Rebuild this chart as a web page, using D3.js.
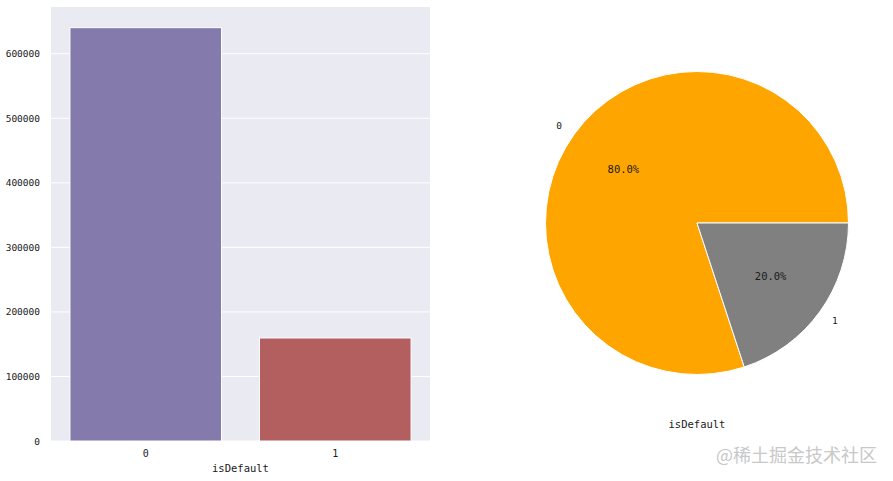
<!DOCTYPE html>
<html>
<head>
<meta charset="utf-8">
<script src="https://cdn.jsdelivr.net/npm/d3@7"></script>
<style>
  body { margin: 0; background: #fff; }
  text { font-family: "DejaVu Sans Mono", "Liberation Mono", monospace; }
</style>
</head>
<body>
<div id="chart"></div>
<script>
// counts per class of isDefault
var categories = ["0", "1"];
var counts = [640390, 159610];
var barColors = ["#847bac", "#b35f60"];
var pieColors = ["#ffa500", "#808080"];
var yTicks = [0, 100000, 200000, 300000, 400000, 500000, 600000];
var xLabel = "isDefault";

var svg = d3.select("#chart").append("svg")
    .attr("width", 893)
    .attr("height", 481);

// ---- left: count plot ----
var plotL = 51, plotR = 430, plotT = 7, plotB = 441;

svg.append("rect")
    .attr("x", plotL).attr("y", plotT)
    .attr("width", plotR - plotL).attr("height", plotB - plotT)
    .style("fill", "#eaeaf2");

var x = d3.scaleBand()
    .domain(categories)
    .range([plotL, plotR])
    .paddingInner(0.2)
    .paddingOuter(0.1);

var y = d3.scaleLinear()
    .domain([0, d3.max(counts) * 1.05])
    .range([plotB, plotT]);

// gridlines
svg.append("g")
    .selectAll("line")
    .data(yTicks)
    .enter().append("line")
    .attr("x1", plotL).attr("x2", plotR)
    .attr("y1", function(d) { return y(d); })
    .attr("y2", function(d) { return y(d); })
    .style("stroke", "#fff")
    .style("stroke-width", 1);

svg.append("g")
    .selectAll("rect")
    .data(counts)
    .enter().append("rect")
    .attr("x", function(d, i) { return x(categories[i]); })
    .attr("width", x.bandwidth())
    .attr("y", function(d) { return y(d); })
    .attr("height", function(d) { return plotB - y(d); })
    .style("fill", function(d, i) { return barColors[i]; })
    .style("stroke", "#fff")
    .style("stroke-width", 1);

var yAxis = d3.axisLeft(y).tickValues(yTicks).tickSize(0).tickPadding(11)
    .tickFormat(d3.format("d"));
var yg = svg.append("g").attr("transform", "translate(" + plotL + ",0)").call(yAxis);
yg.select(".domain").remove();
yg.selectAll("text").style("font-size", "9.5px").style("fill", "#1a1a1a")
    .style("font-family", "'DejaVu Sans Mono', monospace");

var xAxis = d3.axisBottom(x).tickSize(0).tickPadding(9);
var xg = svg.append("g").attr("transform", "translate(0," + plotB + ")").call(xAxis);
xg.select(".domain").remove();
xg.selectAll("text").style("font-size", "10px").style("fill", "#1a1a1a")
    .style("font-family", "'DejaVu Sans Mono', monospace");

svg.append("text")
    .attr("x", (plotL + plotR) / 2)
    .attr("y", 472)
    .attr("text-anchor", "middle")
    .style("font-size", "10.5px")
    .style("fill", "#1a1a1a")
    .text(xLabel);

// ---- right: pie ----
var cx = 697, cy = 223, r = 151.5;
var total = d3.sum(counts);

// matplotlib starts at east and goes counter-clockwise
var pie = d3.pie().sort(null)
    .startAngle(Math.PI / 2)
    .endAngle(Math.PI / 2 - 2 * Math.PI);
var arcs = pie(counts);

var arc = d3.arc().innerRadius(0).outerRadius(r);
var pg = svg.append("g").attr("transform", "translate(" + cx + "," + cy + ")");

pg.selectAll("path")
    .data(arcs)
    .enter().append("path")
    .attr("d", arc)
    .style("fill", function(d, i) { return pieColors[i]; })
    .style("stroke", "#fff")
    .style("stroke-width", 1);

function midPoint(d, k) {
  var a = (d.startAngle + d.endAngle) / 2;
  return [Math.sin(a) * r * k, -Math.cos(a) * r * k];
}

pg.selectAll(".plabel")
    .data(arcs)
    .enter().append("text")
    .attr("class", "plabel")
    .attr("x", function(d) { return midPoint(d, 1.1)[0]; })
    .attr("y", function(d) { return midPoint(d, 1.1)[1]; })
    .attr("dy", "0.35em")
    .attr("text-anchor", function(d) { return midPoint(d, 1)[0] < 0 ? "end" : "start"; })
    .style("font-size", "9.5px")
    .style("fill", "#1a1a1a")
    .text(function(d, i) { return categories[i]; });

pg.selectAll(".pct")
    .data(arcs)
    .enter().append("text")
    .attr("class", "pct")
    .attr("x", function(d) { return midPoint(d, 0.6)[0]; })
    .attr("y", function(d) { return midPoint(d, 0.6)[1]; })
    .attr("dy", "0.35em")
    .attr("text-anchor", "middle")
    .style("font-size", "10.5px")
    .style("fill", "#1a1a1a")
    .text(function(d) { return (d.value / total * 100).toFixed(1) + "%"; });

svg.append("text")
    .attr("x", cx)
    .attr("y", 428)
    .attr("text-anchor", "middle")
    .style("font-size", "10.5px")
    .style("fill", "#1a1a1a")
    .text(xLabel);

// watermark
svg.append("text")
    .attr("x", 877)
    .attr("y", 462)
    .attr("text-anchor", "end")
    .style("font-family", "'Noto Sans CJK SC', sans-serif")
    .style("font-size", "18px")
    .style("fill", "#c8c8c8")
    .text("@稀土掘金技术社区");
</script>
</body>
</html>
